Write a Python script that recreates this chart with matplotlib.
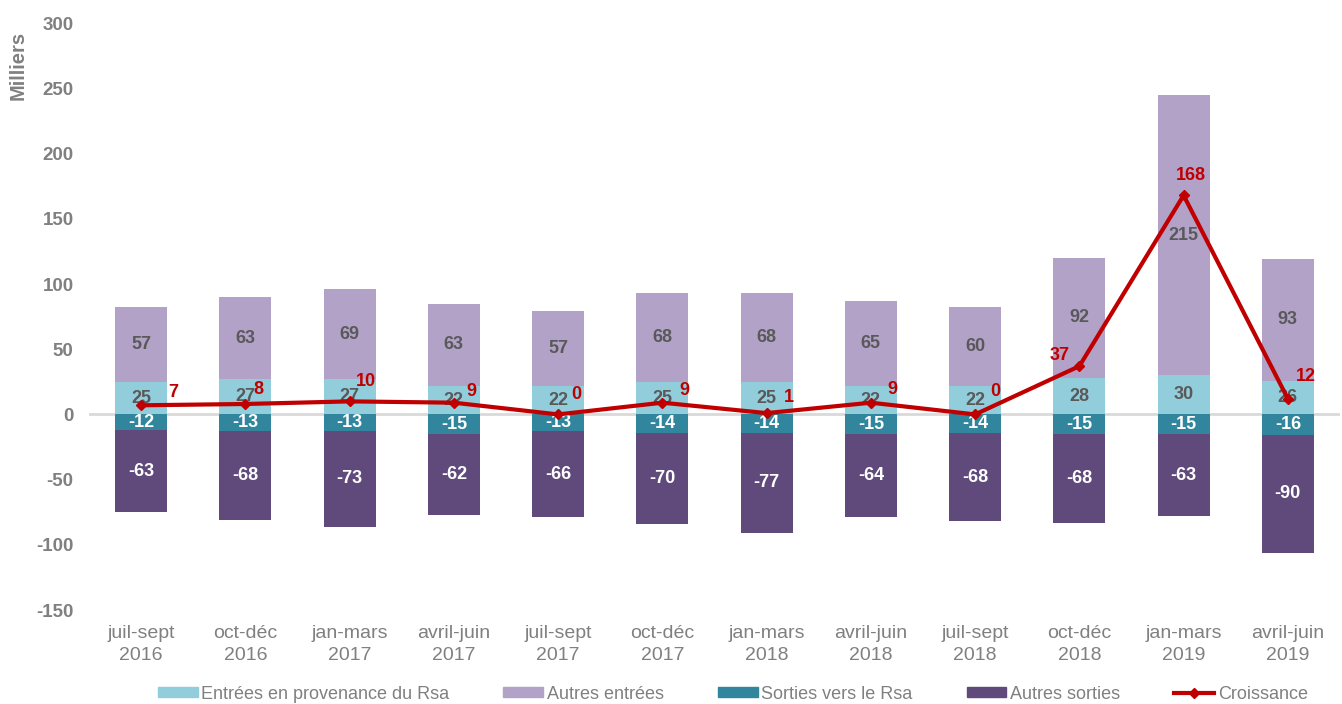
import numpy as np
import matplotlib
matplotlib.use("Agg")
import matplotlib.pyplot as plt
from matplotlib.patches import Patch
from matplotlib.lines import Line2D

plt.rcParams['font.family'] = ['Liberation Sans', 'DejaVu Sans']
plt.rcParams['axes.unicode_minus'] = False

# data (milliers)
periodes = ["juil-sept\n2016", "oct-déc\n2016", "jan-mars\n2017", "avril-juin\n2017",
            "juil-sept\n2017", "oct-déc\n2017", "jan-mars\n2018", "avril-juin\n2018",
            "juil-sept\n2018", "oct-déc\n2018", "jan-mars\n2019", "avril-juin\n2019"]
entrees_rsa = [25, 27, 27, 22, 22, 25, 25, 22, 22, 28, 30, 26]
autres_entrees = [57, 63, 69, 63, 57, 68, 68, 65, 60, 92, 215, 93]
sorties_rsa = [-12, -13, -13, -15, -13, -14, -14, -15, -14, -15, -15, -16]
autres_sorties = [-63, -68, -73, -62, -66, -70, -77, -64, -68, -68, -63, -90]
croissance = [7, 8, 10, 9, 0, 9, 1, 9, 0, 37, 168, 12]

series_names = ["Entrées en provenance du Rsa", "Autres entrées",
                "Sorties vers le Rsa", "Autres sorties", "Croissance"]

# where each croissance label sits relative to its point (pixels)
label_dx = [27, 8, 6, 13, 13, 17, 17, 17, 15, -10, 7, 8]
label_dy = [13, 14, 20, 11, 20, 12, 16, 13, 23, 11, 20, 22]
label_ha = ["left"] * 9 + ["right", "center", "left"]

c_ent_rsa = "#92CDDC"
c_aut_ent = "#B3A2C8"
c_sor_rsa = "#31859C"
c_aut_sor = "#604A7B"
c_line = "#C00000"
c_grey = "#808080"
c_lab = "#595959"

fig = plt.figure(figsize=(13.42, 7.04), dpi=100)
ax = fig.add_axes([0.0663, 0.1335, 0.9322, 0.8335])

x = np.arange(len(periodes))
w = 0.5
ent_rsa = np.array(entrees_rsa)
aut_ent = np.array(autres_entrees)
sor_rsa = np.array(sorties_rsa)
aut_sor = np.array(autres_sorties)

ax.axhline(0, color="#D9D9D9", lw=2, zorder=1)
ax.bar(x, ent_rsa, w, color=c_ent_rsa, zorder=2)
ax.bar(x, aut_ent, w, bottom=ent_rsa, color=c_aut_ent, zorder=2)
ax.bar(x, sor_rsa, w, color=c_sor_rsa, zorder=2)
ax.bar(x, aut_sor, w, bottom=sor_rsa, color=c_aut_sor, zorder=2)

# segment labels
for i in range(len(x)):
    ax.text(x[i], ent_rsa[i] / 2, str(ent_rsa[i]), ha="center", va="center",
            fontsize=13, fontweight="bold", color=c_lab, zorder=3)
    ax.text(x[i], ent_rsa[i] + aut_ent[i] / 2, str(aut_ent[i]), ha="center", va="center",
            fontsize=13, fontweight="bold", color=c_lab, zorder=3)
    ax.text(x[i], sor_rsa[i] / 2, str(sor_rsa[i]), ha="center", va="center",
            fontsize=13, fontweight="bold", color="white", zorder=3)
    ax.text(x[i], sor_rsa[i] + aut_sor[i] / 2, str(aut_sor[i]), ha="center", va="center",
            fontsize=13, fontweight="bold", color="white", zorder=3)

ax.plot(x, croissance, color=c_line, lw=3, marker="D", ms=5, zorder=4)

for i, v in enumerate(croissance):
    ax.annotate(str(v), (x[i], v), xytext=(label_dx[i], label_dy[i]),
                textcoords="offset pixels", ha=label_ha[i], va="center",
                fontsize=13, fontweight="bold", color=c_line, zorder=5)

ax.set_xlim(-0.5, len(x) - 0.5)
ax.set_ylim(-150, 300)
ax.set_yticks(range(-150, 301, 50))
ax.set_xticks(x)
ax.set_xticklabels(periodes, fontsize=14, color=c_grey, linespacing=1.35)
for lab in ax.get_yticklabels():
    lab.set_fontweight("bold")
ax.tick_params(axis="y", labelsize=13.5, labelcolor=c_grey, length=0, pad=11)
ax.tick_params(axis="x", length=0, pad=11)
for s in ax.spines.values():
    s.set_visible(False)

ax.set_ylabel("Milliers", fontsize=14.5, fontweight="bold", color=c_grey)
ax.yaxis.set_label_coords(-0.049, 0.928)

handles = [Patch(color=c_ent_rsa), Patch(color=c_aut_ent), Patch(color=c_sor_rsa),
           Patch(color=c_aut_sor),
           Line2D([], [], color=c_line, lw=3, marker="D", ms=5)]
leg = fig.legend(handles, series_names, loc="lower center", bbox_to_anchor=(0.546, -0.021),
                 ncol=5, frameon=False, fontsize=13, handlelength=2.2, handleheight=0.5,
                 handletextpad=0.2, columnspacing=3.0)
for t in leg.get_texts():
    t.set_color(c_grey)

fig.savefig("out.png", dpi=100)
